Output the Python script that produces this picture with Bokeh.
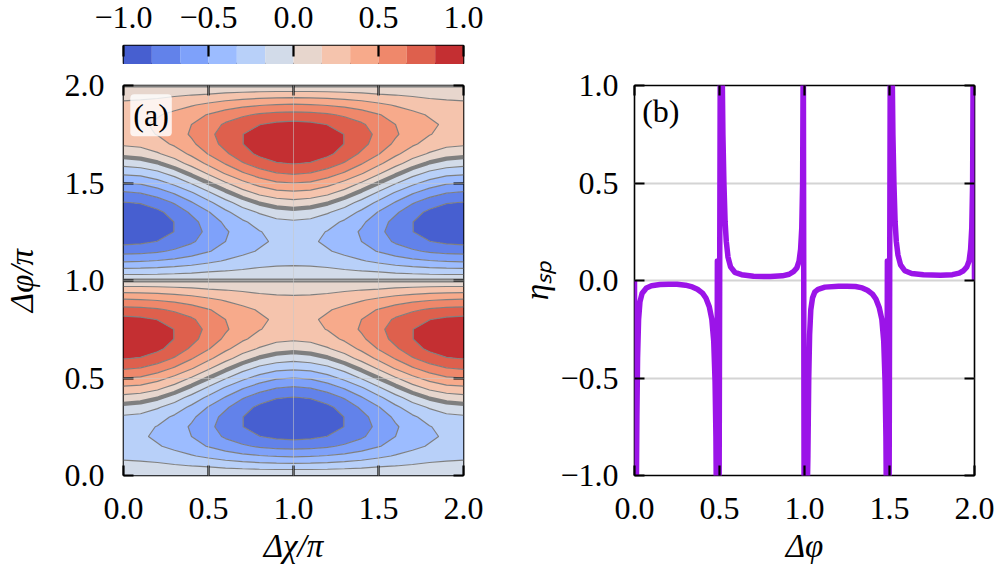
import numpy as np
from bokeh.plotting import figure
from bokeh.layouts import row, column
from bokeh.models import Range1d, LinearAxis, FixedTicker, CustomJSTickFormatter, Label
from bokeh.embed import file_html
from bokeh.resources import INLINE

FONT = "Liberation Serif"

# ---------------- data ----------------
# contour field, quarter (chi/pi in 0..1, phi/pi in 0..1)
chi_q = [0.0, 0.1, 0.2, 0.3, 0.4, 0.5, 0.6, 0.7, 0.8, 0.9, 1.0]
phi_q = [0.0, 0.05, 0.1, 0.15, 0.2, 0.25, 0.3, 0.35, 0.4, 0.45, 0.5,
         0.55, 0.6, 0.65, 0.7, 0.75, 0.8, 0.85, 0.9, 0.95, 1.0]
z_q = [
    [0.00, 0.00, 0.00, 0.00, 0.00, 0.00, 0.00, 0.00, 0.00, 0.00, 0.00],
    [-0.11, -0.12, -0.13, -0.15, -0.17, -0.19, -0.22, -0.24, -0.26, -0.27, -0.27],
    [-0.21, -0.22, -0.24, -0.28, -0.32, -0.37, -0.42, -0.46, -0.49, -0.51, -0.52],
    [-0.28, -0.29, -0.32, -0.37, -0.44, -0.51, -0.58, -0.64, -0.69, -0.72, -0.73],
    [-0.30, -0.31, -0.36, -0.42, -0.50, -0.59, -0.69, -0.77, -0.83, -0.87, -0.89],
    [-0.27, -0.29, -0.34, -0.42, -0.52, -0.63, -0.73, -0.83, -0.91, -0.96, -0.98],
    [-0.19, -0.21, -0.27, -0.36, -0.47, -0.59, -0.72, -0.83, -0.92, -0.98, -0.99],
    [-0.06, -0.08, -0.15, -0.24, -0.37, -0.51, -0.64, -0.77, -0.87, -0.93, -0.95],
    [0.11, 0.08, 0.02, -0.09, -0.22, -0.37, -0.51, -0.65, -0.75, -0.82, -0.84],
    [0.30, 0.28, 0.21, 0.10, -0.04, -0.19, -0.35, -0.48, -0.59, -0.66, -0.69],
    [0.50, 0.48, 0.40, 0.29, 0.15, 0.00, -0.15, -0.29, -0.40, -0.48, -0.50],
    [0.69, 0.66, 0.59, 0.48, 0.35, 0.19, 0.04, -0.10, -0.21, -0.28, -0.30],
    [0.84, 0.82, 0.75, 0.65, 0.51, 0.37, 0.22, 0.09, -0.02, -0.08, -0.11],
    [0.95, 0.93, 0.87, 0.77, 0.64, 0.51, 0.37, 0.24, 0.15, 0.08, 0.06],
    [0.99, 0.98, 0.92, 0.83, 0.72, 0.59, 0.47, 0.36, 0.27, 0.21, 0.19],
    [0.98, 0.96, 0.91, 0.83, 0.73, 0.63, 0.52, 0.42, 0.34, 0.29, 0.27],
    [0.89, 0.87, 0.83, 0.77, 0.69, 0.59, 0.50, 0.42, 0.36, 0.31, 0.30],
    [0.73, 0.72, 0.69, 0.64, 0.58, 0.51, 0.44, 0.37, 0.32, 0.29, 0.28],
    [0.52, 0.51, 0.49, 0.46, 0.42, 0.37, 0.32, 0.28, 0.24, 0.22, 0.21],
    [0.27, 0.27, 0.26, 0.24, 0.22, 0.19, 0.17, 0.15, 0.13, 0.12, 0.12],
    [0.00, 0.00, 0.00, 0.00, 0.00, 0.00, 0.00, 0.00, 0.00, 0.00, 0.00],
]
levels = [-1.0, -0.8333, -0.6667, -0.5, -0.3333, -0.1667, 0.0,
          0.1667, 0.3333, 0.5, 0.6667, 0.8333, 1.0]
band_colors = ["#475FD0", "#6282EA", "#7EA1FA", "#9CBCFF", "#B8D0F9", "#D2DBE9",
               "#E7D6CD", "#F5C4AD", "#F7AA8B", "#EF886B", "#DE604D", "#C42F32"]
cb_ticks = [-1.0, -0.5, 0.0, 0.5, 1.0]
axis_ticks = [0.0, 0.5, 1.0, 1.5, 2.0]
eta_ticks = [-1.0, -0.5, 0.0, 0.5, 1.0]

# eta_sp curve
eta_x = [0.0, 0.0005, 0.009, 0.014, 0.018, 0.024, 0.032, 0.045, 0.07, 0.1, 0.15, 0.2, 0.25,
         0.3, 0.34, 0.37, 0.4, 0.42, 0.44, 0.455, 0.466, 0.474, 0.479, 0.483, 0.487, 0.4875,
         0.491, 0.497, 0.505, 0.513, 0.52, 0.526, 0.533, 0.54, 0.55, 0.565, 0.59, 0.63, 0.7,
         0.8, 0.87, 0.91, 0.935, 0.955, 0.968, 0.977, 0.984, 0.989, 0.993,
         0.998, 1.012, 1.02, 1.025, 1.03, 1.037, 1.047, 1.06, 1.08, 1.12, 1.2, 1.25, 1.3,
         1.34, 1.37, 1.4, 1.42, 1.44, 1.455, 1.466, 1.474, 1.479, 1.483, 1.487, 1.4875,
         1.491, 1.497, 1.505, 1.513, 1.52, 1.526, 1.533, 1.54, 1.55, 1.565, 1.59, 1.63, 1.7,
         1.8, 1.87, 1.91, 1.935, 1.955, 1.968, 1.977, 1.984, 1.989, 1.993, 2.0]
eta_y = [0.0, -1.3, -1.3, -0.7, -0.4, -0.2, -0.11, -0.065, -0.038, -0.027, -0.021, -0.019, -0.019,
         -0.024, -0.033, -0.045, -0.065, -0.09, -0.135, -0.2, -0.31, -0.52, -0.8, -1.3, -0.1, 0.1,
         -1.3, -1.3, 1.3, 1.3, 0.75, 0.5, 0.3, 0.2, 0.12, 0.07, 0.042, 0.03, 0.022,
         0.02, 0.024, 0.032, 0.045, 0.065, 0.1, 0.16, 0.27, 0.5, 1.3,
         -1.3, -1.3, -0.9, -0.5, -0.28, -0.15, -0.09, -0.06, -0.045, -0.034, -0.029, -0.029, -0.031,
         -0.038, -0.05, -0.07, -0.095, -0.14, -0.2, -0.31, -0.52, -0.8, -1.3, -0.1, 0.1,
         -1.3, -1.3, 1.3, 1.3, 0.75, 0.5, 0.3, 0.2, 0.13, 0.08, 0.05, 0.036, 0.029,
         0.027, 0.03, 0.038, 0.05, 0.07, 0.1, 0.16, 0.27, 0.5, 1.3, 0.0]

# ---------------- full field from the picture's mirror symmetries ----------------
zq = np.array(z_q)
z_half = np.hstack([zq, zq[:, -2::-1]])              # mirror about chi = 1
z_full = np.vstack([z_half, -z_half[-2::-1]])          # antisymmetric about phi = 1
chi_full = np.array(chi_q + [round(2 - c, 4) for c in chi_q[-2::-1]])
phi_full = np.array(phi_q + [round(2 - v, 4) for v in phi_q[-2::-1]])

FMT = "return tick.toFixed(1).replace('-', '\u2212');"
EMPTY = "return '';"


def style_axis(ax, ticks, labels=True, standoff=12, tick_len=10):
    ax.ticker = FixedTicker(ticks=ticks)
    ax.formatter = CustomJSTickFormatter(code=FMT if labels else EMPTY)
    ax.major_tick_in = tick_len
    ax.major_tick_out = 0
    ax.major_tick_line_width = 2.2
    ax.major_tick_line_color = "black"
    ax.minor_tick_line_color = None
    ax.axis_line_color = None
    ax.major_label_text_font = FONT
    ax.major_label_text_color = "black"
    ax.major_label_standoff = standoff if labels else 0
    ax.major_label_text_font_size = "32px" if labels else "1px"
    ax.axis_label_text_font = FONT
    ax.axis_label_text_font_size = "33px"
    ax.axis_label_text_font_style = "italic"
    ax.axis_label_text_color = "black"


def frame_style(p):
    p.outline_line_color = "black"
    p.outline_line_width = 1.6
    p.outline_line_alpha = 1.0
    p.background_fill_color = "white"
    p.border_fill_color = "white"


# ---------------- colour bar ----------------
pc = figure(width=485, height=64, x_range=Range1d(-1, 1), y_range=Range1d(0, 1),
            output_backend="svg", toolbar_location=None, title=None,
            x_axis_location="above", y_axis_location=None,
            min_border_left=121, min_border_right=22, min_border_top=45, min_border_bottom=0)
frame_style(pc)
pc.grid.visible = False
pc.quad(left=levels[:-1], right=levels[1:], bottom=0, top=1,
        fill_color=band_colors, line_color=None)
style_axis(pc.above[0], cb_ticks, standoff=18, tick_len=11)

# ---------------- panel (a) ----------------
p1 = figure(width=485, height=502, x_range=Range1d(0, 2), y_range=Range1d(0, 2),
            output_backend="svg", toolbar_location=None, title=None,
            min_border_left=121, min_border_right=22, min_border_top=21, min_border_bottom=91)
frame_style(p1)
line_colors = ["#7f7f7f"] * len(levels)
line_widths = [0, 1.2, 1.2, 1.2, 1.2, 1.2, 4.2, 1.2, 1.2, 1.2, 1.2, 1.2, 0]
p1.contour(chi_full, phi_full, z_full, levels, fill_color=band_colors,
           line_color=line_colors, line_width=line_widths)
p1.add_layout(LinearAxis(), "above")
p1.add_layout(LinearAxis(), "right")
style_axis(p1.below[0], axis_ticks, standoff=22)
style_axis(p1.left[0], axis_ticks, standoff=19)
style_axis(p1.above[0], axis_ticks, labels=False)
style_axis(p1.right[0], axis_ticks, labels=False)
p1.below[0].axis_label = "\u0394\u03c7/\u03c0"
p1.below[0].axis_label_standoff = 6
p1.left[0].axis_label = "\u0394\u03c6/\u03c0"
p1.left[0].axis_label_standoff = 22
for g in (p1.xgrid[0], p1.ygrid[0]):
    g.ticker = FixedTicker(ticks=[0.5, 1.0, 1.5])
    g.grid_line_color = "#c8c8c8"
    g.grid_line_alpha = 0.55
    g.grid_line_width = 1
    g.level = "annotation"
p1.add_layout(Label(x=0.04, y=1.955, text="(a)", text_align="left", text_baseline="top",
                    text_font=FONT, text_font_size="32px", text_color="black",
                    background_fill_color="white", background_fill_alpha=0.8,
                    padding=3, border_radius=4))

# ---------------- panel (b) ----------------
p2 = figure(width=511, height=566, x_range=Range1d(0, 2), y_range=Range1d(-1, 1),
            output_backend="svg", toolbar_location=None, title=None,
            min_border_left=149, min_border_right=22, min_border_top=85, min_border_bottom=91)
frame_style(p2)
p2.xgrid.visible = False
p2.ygrid[0].ticker = FixedTicker(ticks=[-0.5, 0.0, 0.5])
p2.ygrid[0].grid_line_color = "#d4d4d4"
p2.ygrid[0].grid_line_width = 2
p2.line(eta_x, eta_y, line_width=5.5, line_color="#9b14e8", line_join="round")
p2.add_layout(LinearAxis(), "above")
p2.add_layout(LinearAxis(), "right")
style_axis(p2.below[0], axis_ticks, standoff=22)
style_axis(p2.left[0], eta_ticks, standoff=16)
style_axis(p2.above[0], axis_ticks, labels=False)
style_axis(p2.right[0], eta_ticks, labels=False)
p2.below[0].axis_label = "\u0394\u03c6"
p2.below[0].axis_label_standoff = 6
p2.left[0].axis_label = "\u03b7\u209b\u209a"
p2.left[0].axis_label_standoff = 2
p2.add_layout(Label(x=0.045, y=0.964, text="(b)", text_align="left", text_baseline="top",
                    text_font=FONT, text_font_size="32px", text_color="black"))

layout = row(column(pc, p1), p2)
open("out.html", "w").write(file_html(layout, INLINE))
